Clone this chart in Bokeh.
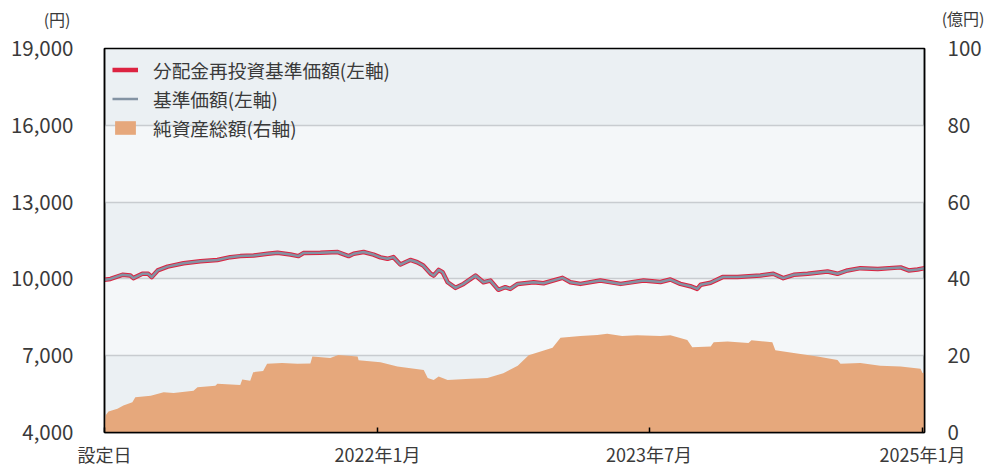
import pandas as pd
from bokeh.plotting import figure
from bokeh.models import (Range1d, LinearAxis, FixedTicker, Label, Legend,
                          LegendItem, NumeralTickFormatter, ColumnDataSource)
from bokeh.embed import file_html
from bokeh.resources import INLINE

# ---------------- data ----------------
nav_dates = [
    "2020-07-01", "2020-07-13", "2020-08-06", "2020-08-22", "2020-08-28", "2020-09-15",
    "2020-09-27", "2020-10-04", "2020-10-16", "2020-11-05", "2020-12-07", "2021-01-10",
    "2021-02-13", "2021-03-11", "2021-03-31", "2021-04-27", "2021-05-25", "2021-06-14",
    "2021-07-10", "2021-07-26", "2021-08-05", "2021-09-08", "2021-10-13", "2021-11-04",
    "2021-11-14", "2021-12-04", "2021-12-24", "2022-01-07", "2022-01-21", "2022-02-02",
    "2022-02-16", "2022-03-08", "2022-03-22", "2022-04-03", "2022-04-18", "2022-04-24",
    "2022-05-04", "2022-05-12", "2022-05-22", "2022-06-07", "2022-06-23", "2022-07-17",
    "2022-08-02", "2022-08-16", "2022-09-01", "2022-09-15", "2022-09-25", "2022-10-10",
    "2022-11-11", "2022-12-01", "2023-01-08", "2023-01-24", "2023-02-13", "2023-03-25",
    "2023-05-05", "2023-06-20", "2023-07-24", "2023-08-13", "2023-09-02", "2023-09-22",
    "2023-10-06", "2023-10-13", "2023-11-02", "2023-11-26", "2023-12-26", "2024-02-10",
    "2024-03-07", "2024-03-27", "2024-04-17", "2024-05-15", "2024-06-24", "2024-07-14",
    "2024-08-03", "2024-08-29", "2024-10-03", "2024-11-18", "2024-12-04", "2024-12-22",
    "2025-01-05",
]
nav_values = [
    9970, 10000, 10160, 10130, 10030, 10200,
    10200, 10070, 10330, 10480, 10610, 10690,
    10740, 10850, 10890, 10910, 10980, 11020,
    10950, 10890, 11010, 11020, 11050, 10890,
    10980, 11050, 10950, 10840, 10785, 10850,
    10560, 10740, 10650, 10520, 10200, 10130,
    10350, 10260, 9870, 9650, 9805, 10130,
    9870, 9935, 9575, 9675, 9610, 9805,
    9870, 9830, 10040, 9870, 9805, 9935,
    9805, 9935, 9880, 9975, 9805, 9715,
    9610, 9770, 9850, 10070, 10070, 10130,
    10200, 10030, 10160, 10200, 10290, 10200,
    10330, 10420, 10390, 10450, 10330, 10370,
    10420,
]
# no distributions paid: the reinvested NAV coincides with the NAV
reinvest_values = [
    9970, 10000, 10160, 10130, 10030, 10200,
    10200, 10070, 10330, 10480, 10610, 10690,
    10740, 10850, 10890, 10910, 10980, 11020,
    10950, 10890, 11010, 11020, 11050, 10890,
    10980, 11050, 10950, 10840, 10785, 10850,
    10560, 10740, 10650, 10520, 10200, 10130,
    10350, 10260, 9870, 9650, 9805, 10130,
    9870, 9935, 9575, 9675, 9610, 9805,
    9870, 9830, 10040, 9870, 9805, 9935,
    9805, 9935, 9880, 9975, 9805, 9715,
    9610, 9770, 9850, 10070, 10070, 10130,
    10200, 10030, 10160, 10200, 10290, 10200,
    10330, 10420, 10390, 10450, 10330, 10370,
    10420,
]

aum_dates = [
    "2020-07-01", "2020-07-03", "2020-07-09", "2020-07-27", "2020-08-08", "2020-08-26",
    "2020-09-01", "2020-10-02", "2020-10-28", "2020-11-17", "2020-12-27", "2021-01-04",
    "2021-02-09", "2021-02-13", "2021-03-31", "2021-04-04", "2021-04-20", "2021-04-26",
    "2021-05-16", "2021-05-24", "2021-06-23", "2021-07-24", "2021-08-19", "2021-08-23",
    "2021-09-28", "2021-10-14", "2021-11-22", "2021-11-24", "2022-01-07", "2022-02-10",
    "2022-04-04", "2022-04-12", "2022-04-24", "2022-05-04", "2022-05-22", "2022-07-07",
    "2022-08-10", "2022-09-11", "2022-10-10", "2022-11-01", "2022-12-19", "2023-01-04",
    "2023-02-13", "2023-03-19", "2023-04-08", "2023-05-08", "2023-06-07", "2023-07-24",
    "2023-08-13", "2023-09-16", "2023-09-26", "2023-11-02", "2023-11-08", "2023-12-06",
    "2024-01-17", "2024-01-23", "2024-03-05", "2024-03-11", "2024-04-17", "2024-06-04",
    "2024-07-14", "2024-07-20", "2024-08-29", "2024-10-08", "2024-11-18", "2024-12-28",
    "2025-01-01", "2025-01-05",
]
aum_values = [
    0.5, 4.4, 5.5, 6.2, 7.0, 7.9,
    9.2, 9.6, 10.5, 10.3, 10.9, 11.8,
    12.2, 12.7, 12.4, 13.8, 13.5, 15.7,
    16.0, 17.9, 18.1, 17.9, 18.0, 19.8,
    19.4, 20.2, 19.8, 18.8, 18.3, 17.2,
    16.3, 14.2, 13.7, 14.6, 13.7, 14.0,
    14.2, 15.4, 17.4, 20.1, 22.1, 24.7,
    25.1, 25.4, 25.7, 25.1, 25.3, 25.1,
    25.3, 24.1, 22.2, 22.4, 23.5, 23.7,
    23.3, 24.0, 23.5, 21.4, 20.7, 19.8,
    18.9, 17.9, 18.1, 17.4, 17.2, 16.6,
    15.5, 15.5,
]

x_tick_dates = ["2020-07-01", "2022-01-01", "2023-07-01", "2025-01-01"]
x_tick_labels = ["設定日", "2022年1月", "2023年7月", "2025年1月"]
left_ticks = [4000, 7000, 10000, 13000, 16000, 19000]
right_ticks = [0, 20, 40, 60, 80, 100]
x_start, x_end = "2020-07-01", "2025-01-05"

series_labels = ["分配金再投資基準価額(左軸)", "基準価額(左軸)", "純資産総額(右軸)"]
left_unit = "(円)"
right_unit = "(億円)"

# ---------------- styling ----------------
FONT = "Noto Sans CJK JP"
TXT = "#3a3a3a"
RED = "#dc2340"
GRAY = "#8393a3"
ORANGE = "#e6a87c"
BAND_DARK = "#ebf0f3"
BAND_LIGHT = "#f4f7f9"

nav_src = ColumnDataSource(dict(x=pd.to_datetime(nav_dates), nav=nav_values,
                                reinv=reinvest_values))
aum_src = ColumnDataSource(dict(x=pd.to_datetime(aum_dates), aum=aum_values))

p = figure(width=986, height=469, x_axis_type="datetime",
           x_range=Range1d(pd.Timestamp(x_start), pd.Timestamp(x_end)),
           y_range=Range1d(left_ticks[0], left_ticks[-1]),
           output_backend="svg", toolbar_location=None,
           min_border_left=104, min_border_right=62, min_border_top=48,
           min_border_bottom=37)
p.extra_y_ranges = {"aum": Range1d(right_ticks[0], right_ticks[-1])}

p.background_fill_color = BAND_DARK
p.border_fill_color = "white"
p.outline_line_color = "black"
p.outline_line_width = 1.5

p.xgrid.visible = False
p.ygrid.ticker = FixedTicker(ticks=left_ticks)
p.ygrid.grid_line_color = "#c8ccd0"
p.ygrid.grid_line_width = 1.5
p.ygrid.band_fill_color = BAND_LIGHT
p.ygrid.band_fill_alpha = 1.0

r_area = p.varea(x="x", y1=0, y2="aum", source=aum_src, y_range_name="aum",
                 fill_color=ORANGE, fill_alpha=1.0)
r_red = p.line(x="x", y="reinv", source=nav_src, line_color=RED, line_width=4.5,
               line_join="round")
r_gray = p.line(x="x", y="nav", source=nav_src, line_color=GRAY, line_width=2.5,
                line_join="round")

# left axis
ly = p.yaxis[0]
ly.ticker = FixedTicker(ticks=left_ticks)
ly.formatter = NumeralTickFormatter(format="0,0")
ly.major_tick_in = 0
ly.major_tick_out = 0
ly.minor_tick_in = 0
ly.minor_tick_out = 0
ly.axis_line_color = "black"
ly.axis_line_width = 1.5
ly.major_label_standoff = 31
ly.major_label_text_font = FONT
ly.major_label_text_font_size = "20.5px"
ly.major_label_text_color = TXT

# right axis
ry = LinearAxis(y_range_name="aum", ticker=FixedTicker(ticks=right_ticks))
ry.major_tick_in = 0
ry.major_tick_out = 0
ry.minor_tick_in = 0
ry.minor_tick_out = 0
ry.axis_line_color = "black"
ry.axis_line_width = 1.5
ry.major_label_standoff = 23
ry.major_label_text_font = FONT
ry.major_label_text_font_size = "20.5px"
ry.major_label_text_color = TXT
p.add_layout(ry, "right")

# x axis
tick_ms = [pd.Timestamp(d).value / 1e6 for d in x_tick_dates]
xa = p.xaxis[0]
xa.ticker = FixedTicker(ticks=tick_ms)
xa.major_label_overrides = {t: lab for t, lab in zip(tick_ms, x_tick_labels)}
xa.major_tick_in = 5
xa.major_tick_out = 0
xa.minor_tick_in = 0
xa.minor_tick_out = 0
xa.major_tick_line_color = "black"
xa.major_tick_line_width = 1.5
xa.axis_line_color = "black"
xa.axis_line_width = 1.5
xa.major_label_standoff = 8
xa.major_label_text_font = FONT
xa.major_label_text_font_size = "18px"
xa.major_label_text_color = TXT

# unit labels in the panels above the frame
p.add_layout(Label(x=-34, y=30, x_units="screen", y_units="screen", text=left_unit,
                   text_align="right", text_baseline="middle", text_font=FONT,
                   text_font_size="16px", text_color=TXT), "above")
p.add_layout(Label(x=880, y=7, x_units="screen", y_units="screen", text=right_unit,
                   text_align="right", text_baseline="middle", text_font=FONT,
                   text_font_size="16px", text_color=TXT), "above")

legend = Legend(items=[
    LegendItem(label=series_labels[0], renderers=[r_red]),
    LegendItem(label=series_labels[1], renderers=[r_gray]),
    LegendItem(label=series_labels[2], renderers=[r_area]),
], location="top_left")
legend.background_fill_alpha = 0
legend.border_line_alpha = 0
legend.label_text_font = FONT
legend.label_text_font_size = "18.7px"
legend.label_text_color = TXT
legend.glyph_width = 26
legend.glyph_height = 17
legend.label_standoff = 15
legend.label_height = 20
legend.spacing = 2
legend.padding = 8
legend.margin = 0
p.add_layout(legend)

open("out.html", "w").write(file_html(p, INLINE))
